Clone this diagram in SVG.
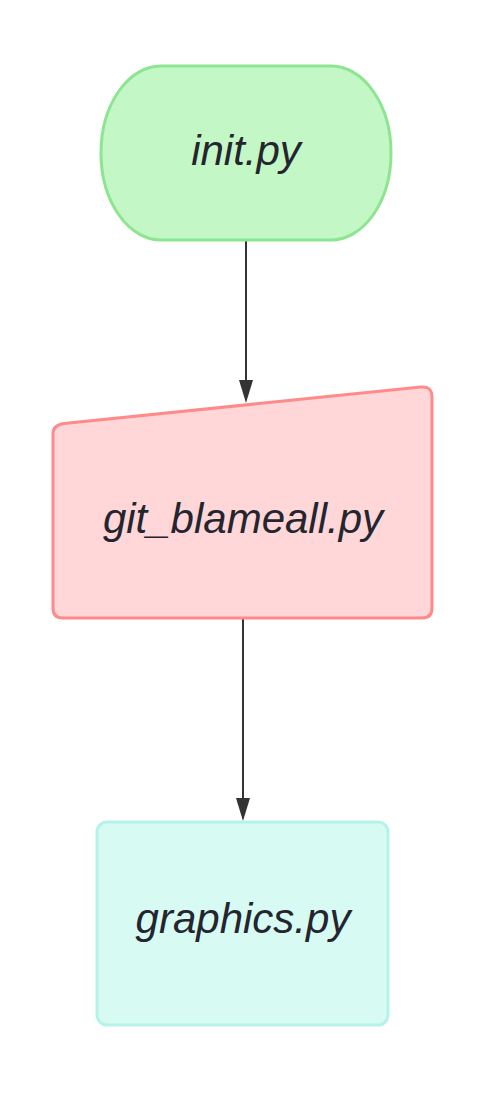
<svg xmlns="http://www.w3.org/2000/svg" width="479" height="1105" viewBox="0 0 479 1105">
<style>
.lbl{font-family:"Liberation Sans",Arial,sans-serif;font-style:italic;font-size:42px;fill:#24252e;text-anchor:middle;dominant-baseline:central}
.edge{stroke:#333;stroke-width:2;fill:none}
.head{fill:#333}
</style>
<rect width="479" height="1105" fill="#fff"/>
<g id="connectors">
<path class="edge" d="M246,241 L246,380"/>
<path class="head" d="M239,380 L253,380 L246,403 Z"/>
<path class="edge" d="M243,619 L243,798"/>
<path class="head" d="M236,798 L250,798 L243,821 Z"/>
</g>
<g id="init">
<rect x="101" y="66" width="290" height="174" rx="60" ry="87" fill="#c3f7c6" stroke="#8de591" stroke-width="3"/>
<text class="lbl" x="246" y="150">init.py</text>
</g>
<g id="git_blameall">
<path d="M64,423.5 L421,387 Q432,386 432,397 L432,608 Q432,618 422,618 L63,618 Q53,618 53,608 L53,434 Q53,425 64,423.5 Z" fill="#ffd7d9" stroke="#ff8a8a" stroke-width="3"/>
<text class="lbl" x="243" y="518">git_blameall.py</text>
</g>
<g id="graphics">
<rect x="97" y="822" width="291" height="203" rx="10" fill="#d7faf3" stroke="#b5f3ea" stroke-width="3"/>
<text class="lbl" x="243" y="918">graphics.py</text>
</g>
</svg>
